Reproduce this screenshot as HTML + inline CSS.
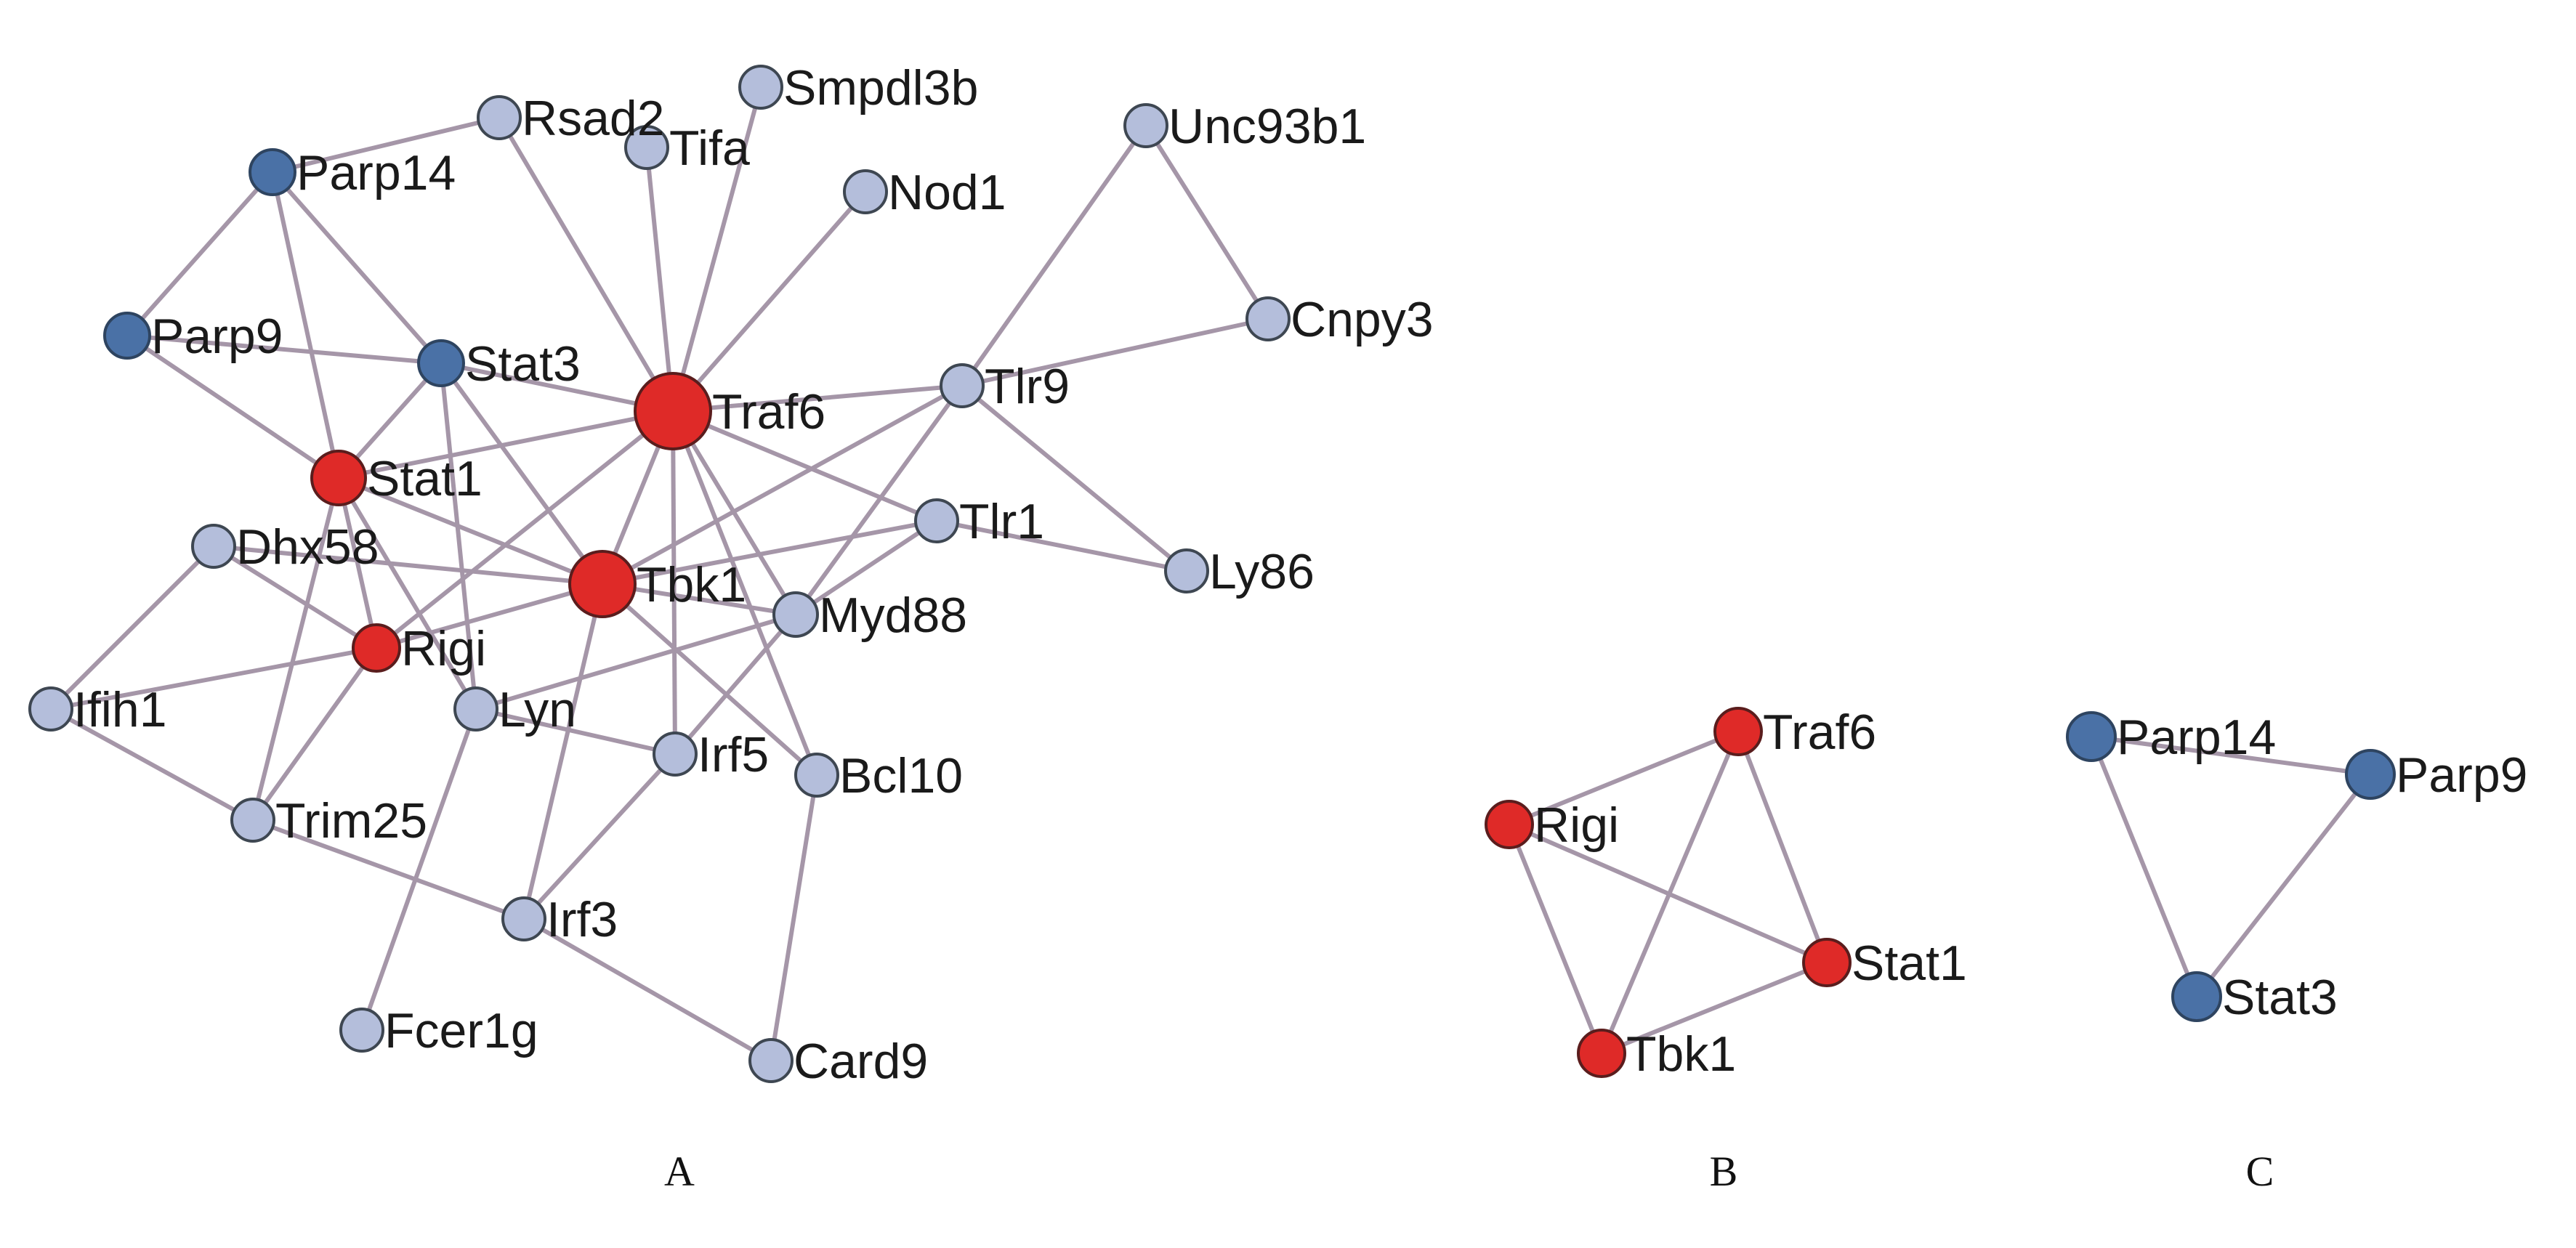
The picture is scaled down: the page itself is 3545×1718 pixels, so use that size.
<!DOCTYPE html>
<html><head><meta charset="utf-8"><style>
html,body{margin:0;padding:0;background:#fff;}
svg{display:block;}
text{font-family:"Liberation Sans",Arial,sans-serif;font-size:68px;fill:#1a1a1a;}
.cap{font-family:"Liberation Serif","Times New Roman",serif;font-size:58px;fill:#111;}
</style></head><body>
<svg width="3545" height="1718" viewBox="0 0 3545 1718" xmlns="http://www.w3.org/2000/svg">
<rect width="3545" height="1718" fill="#fff"/>
<g stroke="#a596a8" stroke-width="6" fill="none">
<line x1="375" y1="237" x2="687" y2="162"/>
<line x1="375" y1="237" x2="175" y2="462"/>
<line x1="375" y1="237" x2="466" y2="658"/>
<line x1="375" y1="237" x2="607" y2="500"/>
<line x1="175" y1="462" x2="607" y2="500"/>
<line x1="175" y1="462" x2="466" y2="658"/>
<line x1="607" y1="500" x2="466" y2="658"/>
<line x1="607" y1="500" x2="926" y2="566"/>
<line x1="607" y1="500" x2="829" y2="804"/>
<line x1="607" y1="500" x2="655" y2="976"/>
<line x1="687" y1="162" x2="926" y2="566"/>
<line x1="890" y1="203" x2="926" y2="566"/>
<line x1="1047" y1="120" x2="926" y2="566"/>
<line x1="1191" y1="264" x2="926" y2="566"/>
<line x1="466" y1="658" x2="926" y2="566"/>
<line x1="466" y1="658" x2="829" y2="804"/>
<line x1="466" y1="658" x2="518" y2="892"/>
<line x1="466" y1="658" x2="348" y2="1129"/>
<line x1="466" y1="658" x2="655" y2="976"/>
<line x1="926" y1="566" x2="829" y2="804"/>
<line x1="926" y1="566" x2="518" y2="892"/>
<line x1="926" y1="566" x2="1324" y2="531"/>
<line x1="926" y1="566" x2="1289" y2="717"/>
<line x1="926" y1="566" x2="1095" y2="846"/>
<line x1="926" y1="566" x2="929" y2="1038"/>
<line x1="926" y1="566" x2="1124" y2="1067"/>
<line x1="829" y1="804" x2="294" y2="752"/>
<line x1="829" y1="804" x2="518" y2="892"/>
<line x1="829" y1="804" x2="1324" y2="531"/>
<line x1="829" y1="804" x2="1289" y2="717"/>
<line x1="829" y1="804" x2="1095" y2="846"/>
<line x1="829" y1="804" x2="721" y2="1265"/>
<line x1="829" y1="804" x2="1124" y2="1067"/>
<line x1="1095" y1="846" x2="1324" y2="531"/>
<line x1="1095" y1="846" x2="1289" y2="717"/>
<line x1="1095" y1="846" x2="655" y2="976"/>
<line x1="1095" y1="846" x2="929" y2="1038"/>
<line x1="1289" y1="717" x2="1633" y2="786"/>
<line x1="1324" y1="531" x2="1577" y2="173"/>
<line x1="1324" y1="531" x2="1745" y2="439"/>
<line x1="1324" y1="531" x2="1633" y2="786"/>
<line x1="1577" y1="173" x2="1745" y2="439"/>
<line x1="294" y1="752" x2="70" y2="976"/>
<line x1="294" y1="752" x2="518" y2="892"/>
<line x1="518" y1="892" x2="70" y2="976"/>
<line x1="518" y1="892" x2="348" y2="1129"/>
<line x1="70" y1="976" x2="348" y2="1129"/>
<line x1="348" y1="1129" x2="721" y2="1265"/>
<line x1="655" y1="976" x2="929" y2="1038"/>
<line x1="655" y1="976" x2="498" y2="1418"/>
<line x1="929" y1="1038" x2="721" y2="1265"/>
<line x1="721" y1="1265" x2="1061" y2="1460"/>
<line x1="1124" y1="1067" x2="1061" y2="1460"/>
<line x1="2392" y1="1007" x2="2077" y2="1135"/>
<line x1="2392" y1="1007" x2="2514" y2="1325"/>
<line x1="2392" y1="1007" x2="2204" y2="1450"/>
<line x1="2077" y1="1135" x2="2514" y2="1325"/>
<line x1="2077" y1="1135" x2="2204" y2="1450"/>
<line x1="2514" y1="1325" x2="2204" y2="1450"/>
<line x1="2878" y1="1014" x2="3262" y2="1066"/>
<line x1="2878" y1="1014" x2="3023" y2="1372"/>
<line x1="3262" y1="1066" x2="3023" y2="1372"/>
</g>
<g stroke-width="4">
<g fill="#b4bedb" stroke="#3e4752">
<circle cx="687" cy="162" r="29"/>
<circle cx="890" cy="203" r="29"/>
<circle cx="1047" cy="120" r="29"/>
<circle cx="1191" cy="264" r="29"/>
<circle cx="1577" cy="173" r="29"/>
<circle cx="1745" cy="439" r="29"/>
<circle cx="1324" cy="531" r="29"/>
<circle cx="1289" cy="717" r="29"/>
<circle cx="1633" cy="786" r="29"/>
<circle cx="1095" cy="846" r="30"/>
<circle cx="294" cy="752" r="29"/>
<circle cx="70" cy="976" r="29"/>
<circle cx="655" cy="976" r="29"/>
<circle cx="929" cy="1038" r="29"/>
<circle cx="1124" cy="1067" r="29"/>
<circle cx="348" cy="1129" r="29"/>
<circle cx="721" cy="1265" r="29"/>
<circle cx="498" cy="1418" r="29"/>
<circle cx="1061" cy="1460" r="29"/>
</g>
<g fill="#4a71a6" stroke="#2e4460">
<circle cx="375" cy="237" r="31"/>
<circle cx="175" cy="462" r="31"/>
<circle cx="607" cy="500" r="31"/>
<circle cx="2878" cy="1014" r="33"/>
<circle cx="3262" cy="1066" r="33"/>
<circle cx="3023" cy="1372" r="33"/>
</g>
<g fill="#df2a28" stroke="#5a1d1d">
<circle cx="926" cy="566" r="52"/>
<circle cx="829" cy="804" r="45"/>
<circle cx="466" cy="658" r="37"/>
<circle cx="518" cy="892" r="32"/>
<circle cx="2392" cy="1007" r="32"/>
<circle cx="2077" cy="1135" r="32"/>
<circle cx="2514" cy="1325" r="32"/>
<circle cx="2204" cy="1450" r="32"/>
</g>
</g>
<g>
<text x="718" y="186">Rsad2</text>
<text x="921" y="227">Tifa</text>
<text x="1078" y="144">Smpdl3b</text>
<text x="1222" y="288">Nod1</text>
<text x="1608" y="197">Unc93b1</text>
<text x="1776" y="463">Cnpy3</text>
<text x="1355" y="555">Tlr9</text>
<text x="1320" y="741">Tlr1</text>
<text x="1664" y="810">Ly86</text>
<text x="1127" y="870">Myd88</text>
<text x="325" y="776">Dhx58</text>
<text x="101" y="1000">Ifih1</text>
<text x="686" y="1000">Lyn</text>
<text x="960" y="1062">Irf5</text>
<text x="1155" y="1091">Bcl10</text>
<text x="379" y="1153">Trim25</text>
<text x="752" y="1289">Irf3</text>
<text x="529" y="1442">Fcer1g</text>
<text x="1092" y="1484">Card9</text>
<text x="408" y="261">Parp14</text>
<text x="208" y="486">Parp9</text>
<text x="640" y="524">Stat3</text>
<text x="980" y="590">Traf6</text>
<text x="876" y="828">Tbk1</text>
<text x="505" y="682">Stat1</text>
<text x="552" y="916">Rigi</text>
<text x="2426" y="1031">Traf6</text>
<text x="2111" y="1159">Rigi</text>
<text x="2548" y="1349">Stat1</text>
<text x="2238" y="1474">Tbk1</text>
<text x="2913" y="1038">Parp14</text>
<text x="3297" y="1090">Parp9</text>
<text x="3058" y="1396">Stat3</text>
<text class="cap" x="935" y="1632" text-anchor="middle">A</text>
<text class="cap" x="2372" y="1632" text-anchor="middle">B</text>
<text class="cap" x="3110" y="1632" text-anchor="middle">C</text>
</g>
</svg>
</body></html>
